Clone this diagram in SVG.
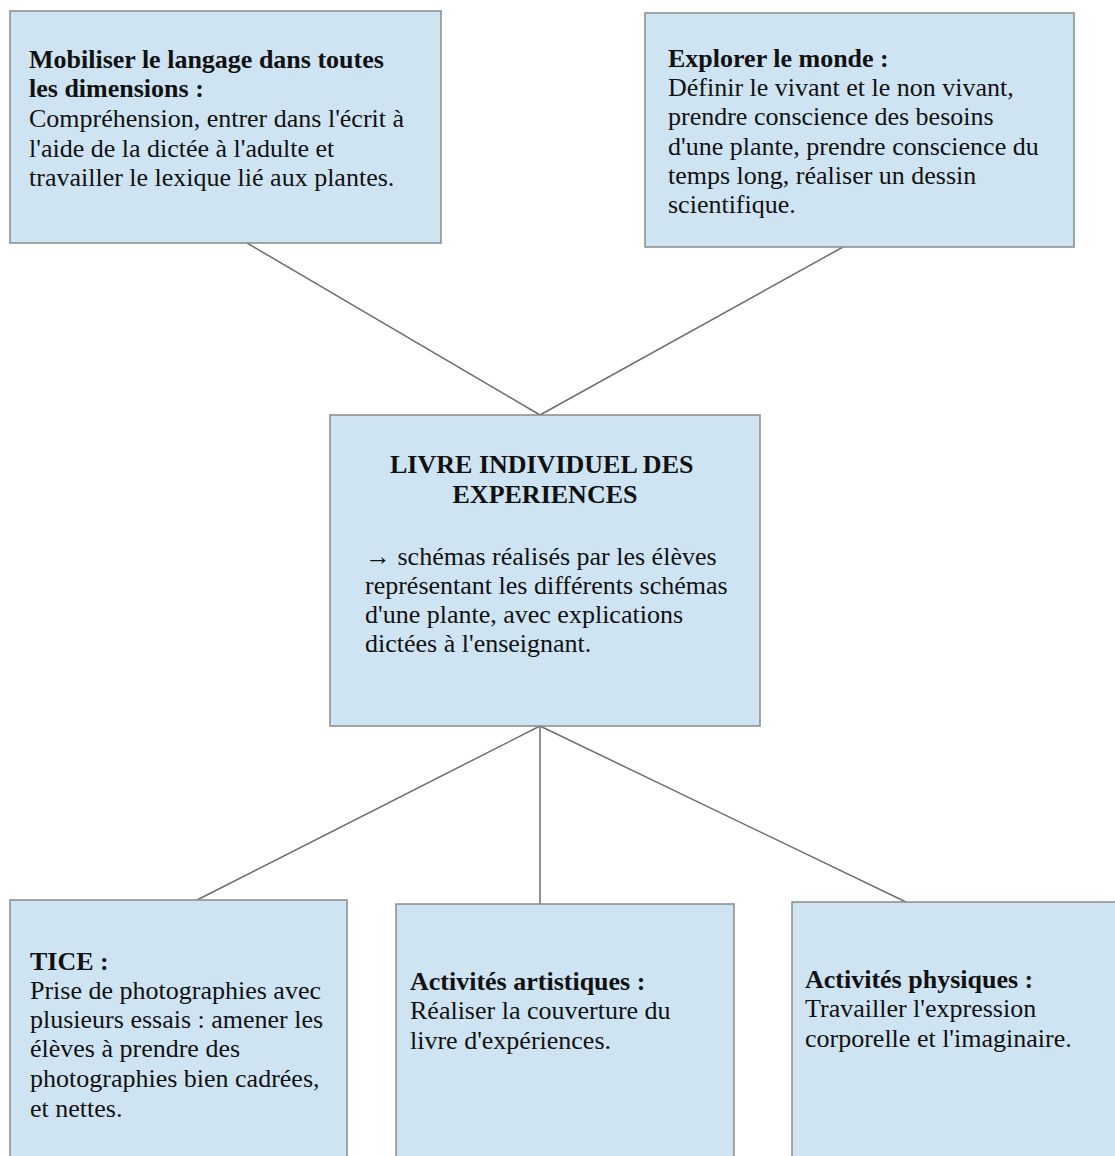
<svg xmlns="http://www.w3.org/2000/svg" width="1115" height="1156" viewBox="0 0 1115 1156">
<style>
.box{fill:#cfe4f3;stroke:#8a8a8a;stroke-width:1.5}
.t{font-family:"Liberation Serif","Times New Roman",serif;font-size:26px;fill:#111}
.b{font-weight:bold}
.c{stroke:#6e6e6e;stroke-width:1.5;fill:none}
</style>
<rect width="1115" height="1156" fill="#ffffff"/>
<g id="connectors">
<line class="c" x1="247" y1="243" x2="540" y2="415"/>
<line class="c" x1="843" y1="247" x2="540" y2="415"/>
<line class="c" x1="540" y1="726" x2="197" y2="900"/>
<line class="c" x1="540" y1="726" x2="540" y2="904"/>
<line class="c" x1="540" y1="726" x2="906" y2="902"/>
</g>
<g id="node-langage">
<rect class="box" x="10" y="11" width="431" height="232"/>
<text class="t" x="29">
<tspan class="b" x="29" y="68">Mobiliser le langage dans toutes</tspan>
<tspan class="b" x="29" y="97">les dimensions :</tspan>
<tspan x="29" y="127">Compréhension, entrer dans l'écrit à</tspan>
<tspan x="29" y="157">l'aide de la dictée à l'adulte et</tspan>
<tspan x="29" y="186">travailler le lexique lié aux plantes.</tspan>
</text>
</g>
<g id="node-monde">
<rect class="box" x="645" y="13" width="429" height="234"/>
<text class="t">
<tspan class="b" x="668" y="67">Explorer le monde :</tspan>
<tspan x="668" y="96">Définir le vivant et le non vivant,</tspan>
<tspan x="668" y="125">prendre conscience des besoins</tspan>
<tspan x="668" y="155">d'une plante, prendre conscience du</tspan>
<tspan x="668" y="184">temps long, réaliser un dessin</tspan>
<tspan x="668" y="213">scientifique.</tspan>
</text>
</g>
<g id="node-livre">
<rect class="box" x="330" y="415" width="430" height="311"/>
<text class="t b" text-anchor="middle">
<tspan x="545" y="473">LIVRE INDIVIDUEL DES</tspan>
<tspan x="545" y="503">EXPERIENCES</tspan>
</text>
<text class="t">
<tspan x="365" y="565">→ schémas réalisés par les élèves</tspan>
<tspan x="365" y="594">représentant les différents schémas</tspan>
<tspan x="365" y="623">d'une plante, avec explications</tspan>
<tspan x="365" y="652">dictées à l'enseignant.</tspan>
</text>
</g>
<g id="node-tice">
<rect class="box" x="10" y="900" width="337" height="270"/>
<text class="t">
<tspan class="b" x="30" y="970">TICE :</tspan>
<tspan x="30" y="999">Prise de photographies avec</tspan>
<tspan x="30" y="1028">plusieurs essais : amener les</tspan>
<tspan x="30" y="1057">élèves à prendre des</tspan>
<tspan x="30" y="1087">photographies bien cadrées,</tspan>
<tspan x="30" y="1117">et nettes.</tspan>
</text>
</g>
<g id="node-artistiques">
<rect class="box" x="396" y="904" width="338" height="270"/>
<text class="t">
<tspan class="b" x="410" y="990">Activités artistiques :</tspan>
<tspan x="410" y="1019">Réaliser la couverture du</tspan>
<tspan x="410" y="1049">livre d'expériences.</tspan>
</text>
</g>
<g id="node-physiques">
<rect class="box" x="792" y="902" width="340" height="270"/>
<text class="t">
<tspan class="b" x="805" y="988">Activités physiques :</tspan>
<tspan x="805" y="1017">Travailler l'expression</tspan>
<tspan x="805" y="1047">corporelle et l'imaginaire.</tspan>
</text>
</g>
</svg>
